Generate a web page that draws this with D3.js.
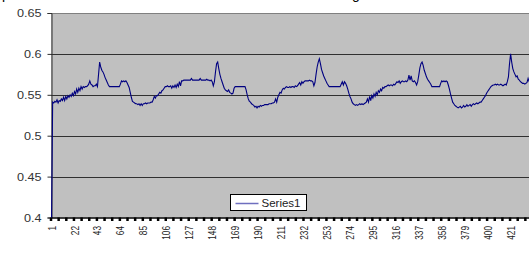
<!DOCTYPE html>
<html>
<head>
<meta charset="utf-8">
<script src="https://cdn.jsdelivr.net/npm/d3@7"></script>
<style>
  body { margin: 0; background: #fff; }
  svg { display: block; font-family: "Liberation Sans", Arial, sans-serif; }
</style>
</head>
<body>
<div id="chart"></div>
<script>
// Series1 values, one per category (1..440)
const valuesA = [
  0.400, 0.541, 0.540, 0.542, 0.541, 0.544, 0.540, 0.543, 0.542, 0.545,
  0.543, 0.547, 0.543, 0.548, 0.545, 0.549, 0.547, 0.550, 0.548, 0.552,
  0.549, 0.554, 0.551, 0.557, 0.553, 0.558, 0.555, 0.560, 0.557, 0.560,
  0.559, 0.560, 0.560, 0.561, 0.563, 0.567, 0.563, 0.562, 0.560, 0.561,
  0.561, 0.563, 0.560, 0.575, 0.590, 0.584, 0.580, 0.578, 0.575, 0.571,
  0.568, 0.565, 0.562, 0.560, 0.560, 0.560, 0.560, 0.560, 0.560, 0.560,
  0.560, 0.560, 0.560, 0.563, 0.567, 0.566, 0.567, 0.566, 0.567, 0.565,
  0.562, 0.559, 0.553, 0.547, 0.542, 0.541, 0.540, 0.539, 0.539, 0.538,
  0.539, 0.537, 0.539, 0.537, 0.539, 0.539, 0.540, 0.539, 0.540, 0.540,
  0.540, 0.541, 0.541, 0.544, 0.548, 0.546, 0.549, 0.549, 0.551, 0.553,
  0.552, 0.555, 0.556, 0.558, 0.560, 0.560, 0.561, 0.560, 0.560, 0.561,
];
const valuesB = [
  0.558, 0.561, 0.559, 0.562, 0.559, 0.563, 0.560, 0.566, 0.561, 0.567,
  0.567, 0.568, 0.568, 0.568, 0.568, 0.568, 0.568, 0.568, 0.570, 0.568,
  0.568, 0.568, 0.568, 0.568, 0.568, 0.568, 0.570, 0.568, 0.568, 0.568,
  0.568, 0.568, 0.569, 0.568, 0.568, 0.567, 0.568, 0.566, 0.561, 0.566,
  0.578, 0.588, 0.590, 0.582, 0.575, 0.570, 0.566, 0.562, 0.558, 0.556,
  0.555, 0.554, 0.556, 0.553, 0.552, 0.551, 0.552, 0.558, 0.560, 0.560,
  0.560, 0.560, 0.560, 0.560, 0.560, 0.560, 0.560, 0.560, 0.556, 0.550,
  0.545, 0.542, 0.541, 0.539, 0.538, 0.537, 0.535, 0.536, 0.534, 0.536,
  0.535, 0.537, 0.536, 0.537, 0.537, 0.538, 0.538, 0.538, 0.538, 0.539,
  0.539, 0.539, 0.540, 0.540, 0.541, 0.545, 0.541, 0.547, 0.550, 0.553,
  0.552, 0.556, 0.558, 0.557, 0.559, 0.560, 0.559, 0.559, 0.560, 0.559,
];
const valuesC = [
  0.560, 0.560, 0.559, 0.561, 0.560, 0.561, 0.563, 0.565, 0.562, 0.566,
  0.564, 0.566, 0.567, 0.567, 0.567, 0.567, 0.568, 0.567, 0.567, 0.566,
  0.561, 0.565, 0.575, 0.584, 0.590, 0.594, 0.588, 0.581, 0.577, 0.573,
  0.570, 0.567, 0.564, 0.562, 0.560, 0.560, 0.560, 0.560, 0.560, 0.560,
  0.560, 0.560, 0.560, 0.560, 0.560, 0.563, 0.566, 0.562, 0.566, 0.564,
  0.561, 0.557, 0.552, 0.548, 0.545, 0.541, 0.539, 0.538, 0.537, 0.538,
  0.537, 0.538, 0.539, 0.538, 0.539, 0.538, 0.539, 0.540, 0.541, 0.545,
  0.541, 0.548, 0.543, 0.549, 0.546, 0.551, 0.548, 0.553, 0.550, 0.555,
  0.553, 0.557, 0.555, 0.559, 0.558, 0.560, 0.560, 0.561, 0.562, 0.561,
  0.562, 0.562, 0.561, 0.563, 0.562, 0.564, 0.566, 0.565, 0.567, 0.564,
  0.566, 0.567, 0.566, 0.566, 0.567, 0.566, 0.568, 0.574, 0.568, 0.573,
];
const valuesD = [
  0.567, 0.566, 0.567, 0.565, 0.562, 0.566, 0.574, 0.583, 0.588, 0.590,
  0.586, 0.580, 0.576, 0.572, 0.569, 0.567, 0.565, 0.563, 0.560, 0.560,
  0.560, 0.560, 0.560, 0.560, 0.560, 0.560, 0.564, 0.567, 0.566, 0.567,
  0.566, 0.567, 0.566, 0.562, 0.557, 0.551, 0.546, 0.541, 0.539, 0.537,
  0.536, 0.535, 0.534, 0.535, 0.536, 0.534, 0.535, 0.537, 0.535, 0.536,
  0.538, 0.536, 0.537, 0.538, 0.536, 0.538, 0.539, 0.538, 0.539, 0.540,
  0.539, 0.540, 0.541, 0.541, 0.543, 0.545, 0.547, 0.549, 0.552, 0.554,
  0.556, 0.558, 0.560, 0.561, 0.562, 0.562, 0.563, 0.562, 0.563, 0.562,
  0.562, 0.563, 0.562, 0.561, 0.562, 0.563, 0.562, 0.566, 0.572, 0.588,
  0.600, 0.590, 0.582, 0.578, 0.575, 0.572, 0.573, 0.569, 0.568, 0.566,
  0.565, 0.564, 0.564, 0.563, 0.564, 0.565, 0.570, 0.566, 0.565, 0.566,
];

const yTicks = [0.4, 0.45, 0.5, 0.55, 0.6, 0.65];
const xLabels = [1, 22, 43, 64, 85, 106, 127, 148, 169, 190, 211, 232, 253, 274,
  295, 316, 337, 358, 379, 400, 421];
const seriesName = 'Series1';

const values = [...valuesA, ...valuesB, ...valuesC, ...valuesD];
const categories = values.map((v, i) => i + 1);

const width = 529;
const height = 255;
const plot = { left: 51, top: 13, bottom: 217.5, band: 1.093 };

const svg = d3.select('#chart')
  .append('svg')
  .attr('width', width)
  .attr('height', height);

const x = d3.scaleBand()
  .domain(categories)
  .range([plot.left, plot.left + categories.length * plot.band]);
const y = d3.scaleLinear()
  .domain([0.4, 0.65])
  .range([plot.bottom, plot.top]);

const plotRight = x.range()[1];

// title fragments cut off at the top edge (as in the source picture)
svg.append('text').attr('x', 2).attr('y', -1).attr('font-size', 14).text('p');
svg.append('text').attr('x', 352).attr('y', -1).attr('font-size', 14).text('g');

// plot area
svg.append('rect')
  .attr('x', plot.left)
  .attr('y', plot.top)
  .attr('width', plotRight - plot.left)
  .attr('height', plot.bottom - plot.top)
  .attr('fill', '#c0c0c0');

// gridlines
svg.append('g')
  .selectAll('line')
  .data(yTicks.filter((t) => t > 0.4))
  .enter()
  .append('line')
  .attr('x1', plot.left)
  .attr('x2', plotRight)
  .attr('y1', (d) => Math.round(y(d)) + 0.5)
  .attr('y2', (d) => Math.round(y(d)) + 0.5)
  .attr('stroke', (d) => (d === 0.65 ? '#808080' : '#303030'))
  .attr('stroke-width', 1.2);

// y axis
const yAxis = svg.append('g')
  .attr('transform', `translate(${plot.left + 0.5},0)`)
  .call(d3.axisLeft(y).tickValues(yTicks).tickSize(4).tickPadding(0)
    .tickFormat((d) => String(+d.toFixed(2))));
yAxis.select('.domain').attr('stroke', '#303030');
yAxis.selectAll('.tick line').attr('stroke', '#303030');
yAxis.selectAll('.tick text')
  .attr('x', 0)
  .attr('font-size', 11)
  .attr('font-family', '"Liberation Sans", Arial, sans-serif')
  .attr('fill', '#333')
  .attr('transform', 'translate(-10,0) scale(1.15,1)');

// x axis line and ticks (every 7 categories, between categories)
svg.append('line')
  .attr('x1', plot.left)
  .attr('x2', plotRight)
  .attr('y1', plot.bottom + 0.5)
  .attr('y2', plot.bottom + 0.5)
  .attr('stroke', '#000')
  .attr('stroke-width', 1.5);

svg.append('g')
  .selectAll('line')
  .data(categories.filter((c) => (c - 1) % 7 === 0))
  .enter()
  .append('line')
  .attr('x1', (c) => x(c))
  .attr('x2', (c) => x(c))
  .attr('y1', plot.bottom)
  .attr('y2', plot.bottom + 3.5)
  .attr('stroke', '#000')
  .attr('stroke-width', 2.5);

// x labels, rotated
svg.append('g')
  .selectAll('text')
  .data(xLabels)
  .enter()
  .append('text')
  .attr('transform', (c) =>
    `translate(${x(c) + x.bandwidth() / 2},226) rotate(-90) scale(0.72,1)`)
  .attr('text-anchor', 'end')
  .attr('dy', '0.35em')
  .attr('font-size', 11.5)
  .attr('fill', '#222')
  .text((c) => c);

// the series
const line = d3.line()
  .x((d, i) => x(categories[i]) + x.bandwidth() / 2)
  .y((d) => y(d));

svg.append('path')
  .datum(values)
  .attr('fill', 'none')
  .attr('stroke', '#000080')
  .attr('stroke-width', 1.1)
  .attr('d', line);

// legend
const legend = svg.append('g').attr('transform', 'translate(230.5,194.5)');
legend.append('rect')
  .attr('width', 76)
  .attr('height', 16)
  .attr('fill', '#fff')
  .attr('stroke', '#000')
  .attr('stroke-width', 1);
legend.append('line')
  .attr('x1', 5)
  .attr('x2', 28)
  .attr('y1', 9)
  .attr('y2', 9)
  .attr('stroke', '#6f6fbf')
  .attr('stroke-width', 1.5);
legend.append('text')
  .attr('x', 31)
  .attr('y', 12.5)
  .attr('font-size', 11.5)
  .attr('fill', '#222')
  .text(seriesName);
</script>
</body>
</html>
